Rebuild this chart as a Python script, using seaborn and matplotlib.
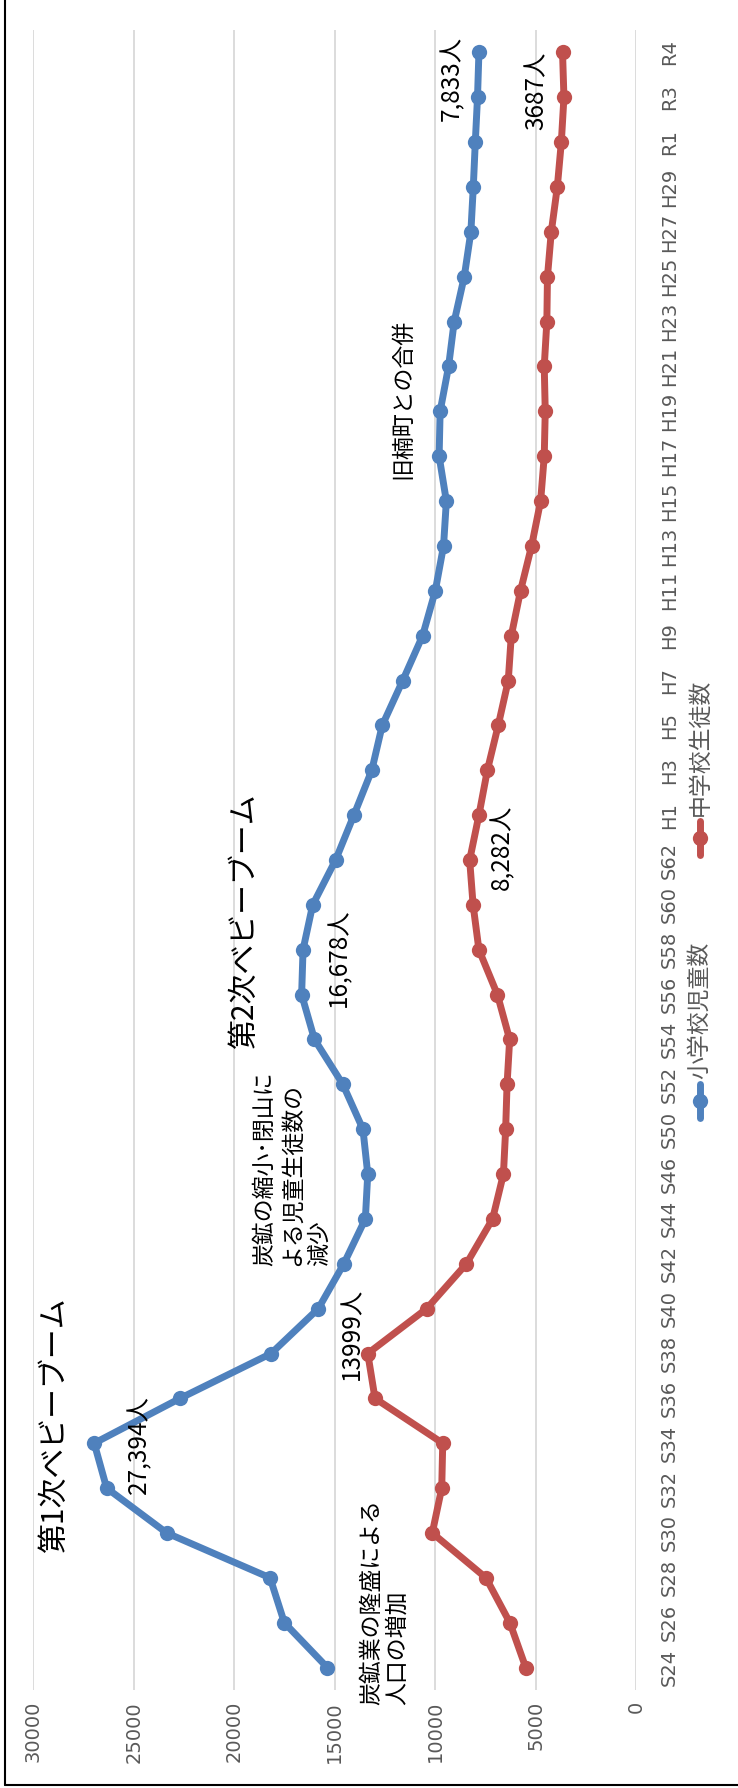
import numpy as np
import pandas as pd
import matplotlib
matplotlib.use('Agg')
import matplotlib.pyplot as plt
from matplotlib.lines import Line2D
import seaborn as sns

# school years (Showa / Heisei / Reiwa)
years = ['S24', 'S26', 'S28', 'S30', 'S32', 'S34', 'S36', 'S38', 'S40', 'S42',
         'S44', 'S46', 'S50', 'S52', 'S54', 'S56', 'S58', 'S60', 'S62', 'H1',
         'H3', 'H5', 'H7', 'H9', 'H11', 'H13', 'H15', 'H17', 'H19', 'H21',
         'H23', 'H25', 'H27', 'H29', 'R1', 'R3', 'R4']

elementary = [15370, 17510, 18220, 23360, 26350, 26970, 22700, 18170, 15820, 14550,
              13480, 13360, 13600, 14600, 16010, 16650, 16580, 16100, 14960, 14050,
              13160, 12640, 11620, 10630, 10000, 9590, 9450, 9810, 9760, 9340,
              9060, 8560, 8230, 8110, 8010, 7900, 7830]

junior_high = [5500, 6290, 7480, 10150, 9680, 9630, 13000, 13360, 10430, 8450,
               7150, 6610, 6500, 6430, 6300, 6910, 7830, 8120, 8290, 7830,
               7410, 6870, 6370, 6220, 5760, 5210, 4760, 4580, 4530, 4580,
               4450, 4420, 4230, 3930, 3730, 3600, 3670]

series_names = ['小学校児童数', '中学校生徒数']
colors = ['#4F81BD', '#C0504D']
value_ticks = [0, 5000, 10000, 15000, 20000, 25000, 30000]

sns.set_theme(style='white')
plt.rcParams['font.family'] = ['DejaVu Sans', 'Noto Sans CJK JP']
jp = ['Noto Sans CJK JP', 'DejaVu Sans']

W, H = 738, 1788
fig = plt.figure(figsize=(W / 100, H / 100), dpi=100)
fig.patch.set_facecolor('white')
ax = fig.add_axes([33.3 / W, 1 - 1690 / H, (636.3 - 33.3) / W, (1690 - 30) / H])

pos = np.arange(len(years))
df = pd.DataFrame({
    'count': elementary + junior_high,
    'pos': np.concatenate([pos, pos]),
    'series': [series_names[0]] * len(years) + [series_names[1]] * len(years),
})

sns.lineplot(data=df, x='count', y='pos', hue='series', palette=colors,
             orient='y', sort=False, errorbar=None, marker='o', markersize=11,
             markeredgewidth=0, linewidth=5, legend=False, ax=ax)

# chart is drawn turned on its side: values run right->left, years bottom->top
ax.set_xlim(30000, 0)
ax.set_ylim(-0.5, len(years) - 0.5)
ax.set_xticks(value_ticks)
ax.set_xticklabels([str(v) for v in value_ticks])
ax.tick_params(axis='x', rotation=90, length=0, pad=8, labelsize=14, labelcolor='#595959')
ax.set_yticks(pos)
ax.set_yticklabels(years)
ax.yaxis.tick_right()
ax.tick_params(axis='y', length=0, pad=17, labelsize=14, labelcolor='#595959')
for lbl in ax.get_yticklabels():
    lbl.set_rotation(90)
    lbl.set_va('center')
ax.set_xlabel('')
ax.set_ylabel('')
ax.grid(axis='x', color='#d9d9d9', linewidth=1.3)
ax.grid(axis='y', visible=False)
ax.set_axisbelow(True)
for s in ax.spines.values():
    s.set_visible(False)

# annotations
def note(v, y, s, size=17.5, **kw):
    ax.text(v, y, s, rotation=90, fontsize=size, family=jp, color='black',
            ha=kw.pop('ha', 'center'), va=kw.pop('va', 'center'), **kw)

note(28970, 5.41, '第1次ベビーブーム', size=21.5)
note(24735, 4.96, '27,394人')
note(14144, 7.43, '13999人')
note(17129, 8.95, '炭鉱の縮小･閉山に\nよる児童生徒数の\n減少', size=16.5,
     va='bottom', multialignment='left', linespacing=1.25)
note(19507, 16.64, '第2次ベビーブーム', size=21.5)
note(14791, 15.82, '16,678人')
note(6682, 18.29, '8,282人')
note(11607, 28.28, '旧楠町との合併', size=16.5)
note(9169, 35.43, '7,833人')
note(4940, 35.14, '3687人')
note(12527, -0.84, '炭鉱業の隆盛による\n人口の増加', size=16.5, va='bottom',
     multialignment='left', linespacing=1.2)

# legend, rotated like the rest of the chart
for name, color, cy in zip(series_names, colors, [1101, 838]):
    fig.add_artist(Line2D([700 / W, 700 / W], [1 - (cy + 17) / H, 1 - (cy - 17) / H],
                          color=color, lw=5, transform=fig.transFigure))
    fig.add_artist(Line2D([700 / W], [1 - cy / H], marker='o', ms=11, mew=0,
                          color=color, transform=fig.transFigure))
    fig.text(700 / W, 1 - (cy - 22) / H, name, rotation=90, ha='center', va='bottom',
             fontsize=16.5, color='#595959', family=jp)

# outer frame (left and bottom edges visible)
fig.add_artist(Line2D([5 / W, 5 / W], [3 / H, 1], color='black', lw=1.5,
                      transform=fig.transFigure))
fig.add_artist(Line2D([5 / W, 1], [3 / H, 3 / H], color='black', lw=1.5,
                      transform=fig.transFigure))

fig.savefig('out.png', dpi=100)
